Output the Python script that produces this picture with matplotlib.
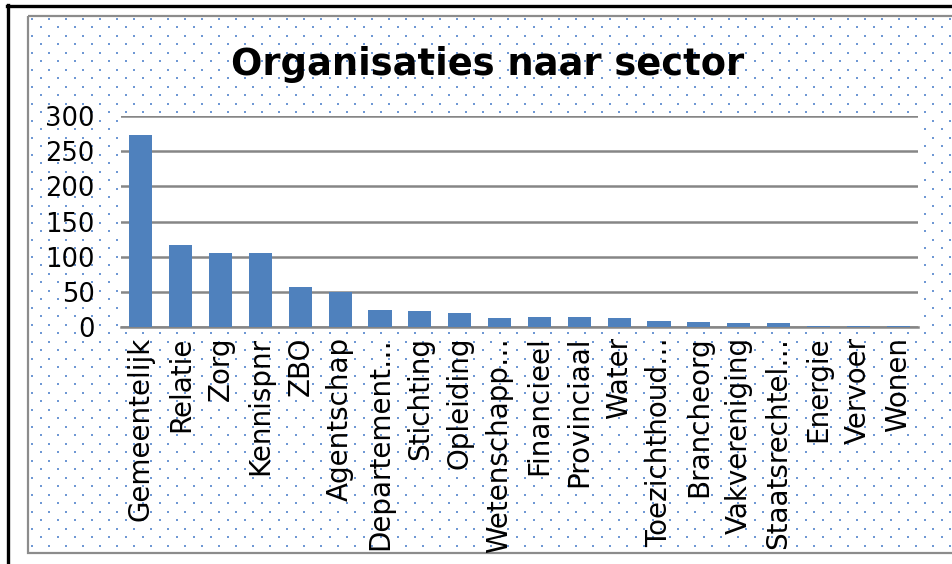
import numpy as np
import matplotlib
matplotlib.use("Agg")
import matplotlib.pyplot as plt
from matplotlib.patches import Rectangle
from matplotlib.lines import Line2D

# data
sectors = ["Gemeentelijk", "Relatie", "Zorg", "Kennispnr", "ZBO", "Agentschap",
           "Departement…", "Stichting", "Opleiding", "Wetenschapp…", "Financieel",
           "Provinciaal", "Water", "Toezichthoud…", "Brancheorg", "Vakvereniging",
           "Staatsrechtel…", "Energie", "Vervoer", "Wonen"]
counts = [273, 117, 105, 105, 57, 50, 24, 23, 20, 13, 14, 14, 13, 9, 7, 6, 5, 2, 2, 1]
y_ticks = [0, 50, 100, 150, 200, 250, 300]

W, H = 952, 564
bar_col = "#4F81BD"
grid_col = "#868686"
dot_col = "#6f98d4"

plt.rcParams['font.family'] = ['DejaVu Sans']
fig = plt.figure(figsize=(W / 100, H / 100), dpi=100)

# background layer in pixel coords: dotted chart area + borders
bg = fig.add_axes([0, 0, 1, 1])
bg.set_xlim(0, W)
bg.set_ylim(H, 0)
bg.axis("off")
bg.add_patch(Rectangle((0, 0), W, H, facecolor="white", edgecolor="none", zorder=0))

x_left, x_right, y_top, y_bot = 28, 951, 16, 553
rows = np.arange(y_top + 2.5, y_bot, 8.5)
dx, dy = [], []
for i, yy in enumerate(rows):
    start = x_left + 4 if i % 2 == 0 else x_left + 12.5
    xx = np.arange(start, x_right, 17)
    dx.extend(xx)
    dy.extend([yy] * len(xx))
bg.scatter(dx, dy, s=1.3, marker="s", color=dot_col, linewidths=0, zorder=1)

bg.add_patch(Rectangle((x_left, y_top), x_right - x_left + 5, y_bot - y_top,
                       facecolor="none", edgecolor="#8c8c8c", lw=1.6, zorder=2))
bg.add_line(Line2D([7, W], [5.5, 5.5], color="black", lw=2.4, zorder=3))
bg.add_line(Line2D([7.5, 7.5], [5, H], color="black", lw=2.4, zorder=3))

# plot area
ax = fig.add_axes([121 / W, 1 - 327 / H, (918 - 121) / W, (327 - 116) / H])
ax.set_facecolor("white")
x = np.arange(len(sectors))
ax.bar(x, counts, width=0.58, color=bar_col, zorder=3)
ax.set_xlim(-0.5, len(sectors) - 0.5)
ax.set_ylim(0, 300)
ax.set_yticks(y_ticks)
ax.set_yticklabels([str(v) for v in y_ticks], fontsize=18.5)
ax.set_xticks(x)
ax.set_xticklabels(sectors, rotation=90, fontsize=20, va="top", ha="center")
ax.yaxis.grid(True, color=grid_col, lw=1.8, zorder=1)
ax.set_axisbelow(True)
for s in ["left", "right", "top"]:
    ax.spines[s].set_visible(False)
ax.spines["bottom"].set_color(grid_col)
ax.spines["bottom"].set_linewidth(1.8)
ax.tick_params(axis="y", length=0, pad=19)
ax.tick_params(axis="x", length=0, pad=7)

fig.text(488 / W, 1 - 75 / H, "Organisaties naar sector", fontsize=26.5,
         fontweight="bold", ha="center", va="baseline")

fig.savefig("out.png", dpi=100)
